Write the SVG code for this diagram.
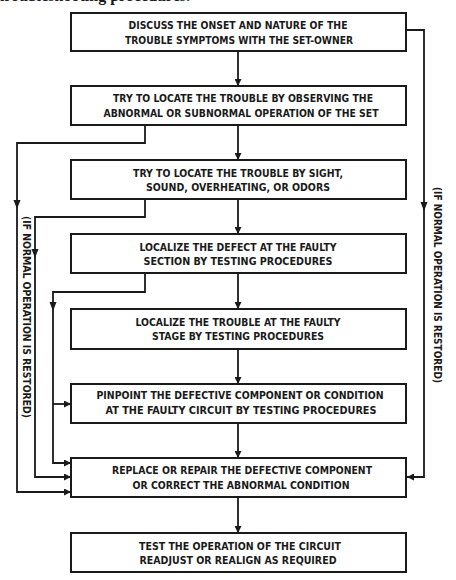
<svg xmlns="http://www.w3.org/2000/svg" xmlns:xlink="http://www.w3.org/1999/xlink" width="456" height="580" viewBox="0 0 456 580">
<style>
.box{fill:#fff;stroke:#1a1a1a;stroke-width:2}
.t{font-family:"Liberation Sans Narrow","DejaVu Sans Condensed","Liberation Sans",sans-serif;font-size:11px;font-weight:bold;fill:#1a1a1a;text-anchor:middle}
.c{fill:none;stroke:#1a1a1a;stroke-width:1.8}
.ah{fill:#1a1a1a}
</style>
<defs>
<marker id="arr" viewBox="0 0 10 10" refX="10" refY="5" markerWidth="8" markerHeight="7" markerUnits="userSpaceOnUse" orient="auto">
<path d="M0,0 L10,5 L0,10 Z" fill="#1a1a1a"/>
</marker>
<path id="ad" d="M-3.5,-9 L3.5,-9 L0,0 Z"/>
</defs>
<rect width="456" height="580" fill="#fff"/>
<text x="190" y="0.5" font-family="Liberation Serif, serif" font-size="16" font-weight="bold" text-anchor="end" fill="#1a1a1a">troubleshooting procedures.</text>

<g id="connectors">
<path class="c" d="M238,51 V86" marker-end="url(#arr)"/>
<path class="c" d="M238,125 V160" marker-end="url(#arr)"/>
<path class="c" d="M238,199 V234" marker-end="url(#arr)"/>
<path class="c" d="M238,273 V309" marker-end="url(#arr)"/>
<path class="c" d="M238,349 V384" marker-end="url(#arr)"/>
<path class="c" d="M238,423 V458" marker-end="url(#arr)"/>
<path class="c" d="M238,497 V533" marker-end="url(#arr)"/>
<path class="c" d="M406,30 H424 V477 H407" marker-end="url(#arr)"/>
<path class="c" d="M145,125 V143 H17 V492 H71" marker-end="url(#arr)"/>
<path class="c" d="M145,199 V217 H35 V477 H71" marker-end="url(#arr)"/>
<path class="c" d="M145,273 V292 H53 V463 H71" marker-end="url(#arr)"/>
<path class="c" d="M53,404 H71" marker-end="url(#arr)"/>
<use xlink:href="#ad" class="ah" x="424" y="211"/>
<use xlink:href="#ad" class="ah" x="17" y="209"/>
<use xlink:href="#ad" class="ah" x="35" y="258"/>
<use xlink:href="#ad" class="ah" x="53" y="311"/>
</g>

<g id="n1">
<rect class="box" x="71" y="13" width="335" height="38"/>
<text class="t" x="238" y="29" textLength="219" lengthAdjust="spacingAndGlyphs">DISCUSS THE ONSET AND NATURE OF THE</text>
<text class="t" x="239" y="44" textLength="228" lengthAdjust="spacingAndGlyphs">TROUBLE SYMPTOMS WITH THE SET-OWNER</text>
</g>
<g id="n2">
<rect class="box" x="71" y="86" width="335" height="39"/>
<text class="t" x="243" y="102" textLength="260" lengthAdjust="spacingAndGlyphs">TRY TO LOCATE THE TROUBLE BY OBSERVING THE</text>
<text class="t" x="241" y="117" textLength="275" lengthAdjust="spacingAndGlyphs">ABNORMAL OR SUBNORMAL OPERATION OF THE SET</text>
</g>
<g id="n3">
<rect class="box" x="71" y="160" width="335" height="39"/>
<text class="t" x="238" y="177" textLength="210" lengthAdjust="spacingAndGlyphs">TRY TO LOCATE THE TROUBLE BY SIGHT,</text>
<text class="t" x="238" y="191" textLength="184" lengthAdjust="spacingAndGlyphs">SOUND, OVERHEATING, OR ODORS</text>
</g>
<g id="n4">
<rect class="box" x="71" y="234" width="335" height="39"/>
<text class="t" x="238" y="251" textLength="197" lengthAdjust="spacingAndGlyphs">LOCALIZE THE DEFECT AT THE FAULTY</text>
<text class="t" x="238" y="265" textLength="189" lengthAdjust="spacingAndGlyphs">SECTION BY TESTING PROCEDURES</text>
</g>
<g id="n5">
<rect class="box" x="71" y="309" width="335" height="40"/>
<text class="t" x="238" y="326" textLength="205" lengthAdjust="spacingAndGlyphs">LOCALIZE THE TROUBLE AT THE FAULTY</text>
<text class="t" x="238" y="340" textLength="172" lengthAdjust="spacingAndGlyphs">STAGE BY TESTING PROCEDURES</text>
</g>
<g id="n6">
<rect class="box" x="71" y="384" width="335" height="39"/>
<text class="t" x="240" y="399" textLength="287" lengthAdjust="spacingAndGlyphs">PINPOINT THE DEFECTIVE COMPONENT OR CONDITION</text>
<text class="t" x="241" y="414" textLength="271" lengthAdjust="spacingAndGlyphs">AT THE FAULTY CIRCUIT BY TESTING PROCEDURES</text>
</g>
<g id="n7">
<rect class="box" x="71" y="458" width="335" height="39"/>
<text class="t" x="242" y="474" textLength="260" lengthAdjust="spacingAndGlyphs">REPLACE OR REPAIR THE DEFECTIVE COMPONENT</text>
<text class="t" x="241" y="489" textLength="217" lengthAdjust="spacingAndGlyphs">OR CORRECT THE ABNORMAL CONDITION</text>
</g>
<g id="n8">
<rect class="box" x="71" y="533" width="335" height="39"/>
<text class="t" x="240" y="550" textLength="202" lengthAdjust="spacingAndGlyphs">TEST THE OPERATION OF THE CIRCUIT</text>
<text class="t" x="238" y="564" textLength="197" lengthAdjust="spacingAndGlyphs">READJUST OR REALIGN AS REQUIRED</text>
</g>

<g id="labels">
<text class="t" transform="translate(23,317) rotate(90)" x="0" y="0" textLength="202" lengthAdjust="spacingAndGlyphs">(IF NORMAL OPERATION IS RESTORED)</text>
<text class="t" transform="translate(434,285) rotate(90)" x="0" y="0" textLength="196" lengthAdjust="spacingAndGlyphs">(IF NORMAL OPERATION IS RESTORED)</text>
</g>
</svg>
